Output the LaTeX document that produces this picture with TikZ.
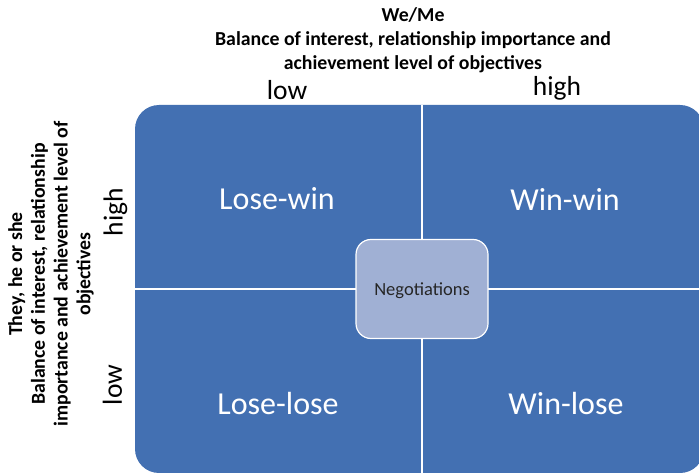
\documentclass[tikz,border=0pt]{standalone}
\usepackage{fontspec}
\setmainfont{Carlito}
\definecolor{quadblue}{RGB}{67,112,178}
\definecolor{centerfill}{RGB}{160,176,212}
\begin{document}
\begin{tikzpicture}[x=1pt,y=-1pt,
  quadlabel/.style={text=white,font=\fontsize{32}{38}\selectfont},
  levellabel/.style={text=black,font=\fontsize{27.5}{32}\selectfont},
  axistitle/.style={text=black,font=\bfseries\fontsize{19.8}{24}\selectfont,align=center},
  sidetitle/.style={axistitle,font=\bfseries\fontsize{19.8}{22.8}\selectfont,rotate=90},
  centerbox/.style={draw=white,line width=1.2pt,fill=centerfill,rounded corners=15pt,
    minimum width=132pt,minimum height=99pt,text depth=0pt,
    font=\fontsize{18.5}{22}\selectfont,text=black!85},
  divider/.style={white,line width=1.2pt}]
\useasboundingbox (0,0) rectangle (699,473);
% matrix background
\begin{scope}
  \clip (0,0) rectangle (699,473);
  \fill[quadblue,rounded corners=24pt] (135,105) rectangle (704,473);
  \coordinate (vtop) at (422,105);
  \coordinate (vbot) at (422,473);
  \coordinate (hleft) at (135,289);
  \coordinate (hright) at (699,289);
  \draw[divider] (vtop) -- (vbot);
  \draw[divider] (hleft) -- (hright);
\end{scope}
% centre box
\node[centerbox] (neg) at (422,289) {Negotiations};
% quadrant labels
\node[quadlabel] (lw) at (277,199) {Lose-win};
\node[quadlabel] (ww) at (565,199) {Win-win};
\node[quadlabel] (ll) at (278,404) {Lose-lose};
\node[quadlabel] (wl) at (566,404) {Win-lose};
% top axis
\node[axistitle] (toptitle) at (413,40) {We/Me\\Balance of interest, relationship importance and\\achievement level of objectives};
\node[levellabel] (toplow) at (287,90) {low};
\node[levellabel] (tophigh) at (557,88) {high};
% left axis
\node[sidetitle] (lefttitle) at (51,274) {They, he or she\\Balance of interest, relationship\\importance and achievement level of\\objectives};
\node[levellabel,rotate=90] (lefthigh) at (115.5,212) {high};
\node[levellabel,rotate=90] (leftlow) at (112.5,385) {low};
\end{tikzpicture}
\end{document}
